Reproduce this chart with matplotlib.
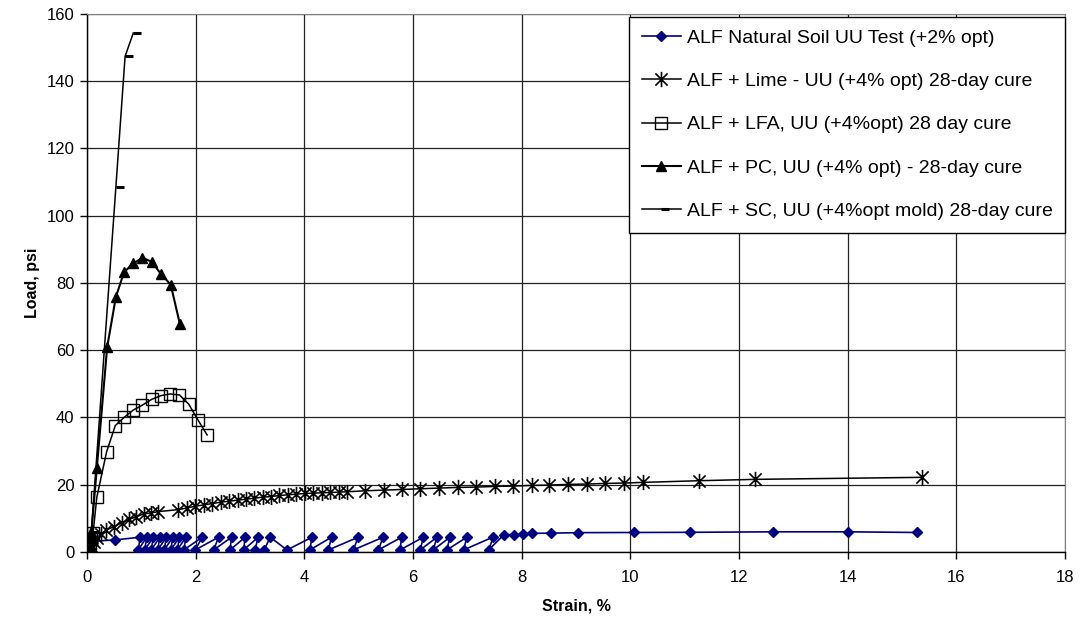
import matplotlib
matplotlib.use('Agg')
import matplotlib.pyplot as plt
from matplotlib.path import Path

plt.rcParams['font.family'] = ['Liberation Sans', 'DejaVu Sans']

# ALF natural soil UU test (+2% opt)
nat_x = [0, 0.03, 0.06, 0.10, 0.52, 0.98, 0.94, 1.10, 1.06, 1.22, 1.18, 1.34, 1.30, 1.46, 1.42,
         1.58, 1.54, 1.70, 1.66, 1.82, 1.78, 2.12, 1.99, 2.42, 2.33, 2.66, 2.63, 2.91, 2.88,
         3.15, 3.09, 3.26, 3.37, 3.68, 4.14, 4.10, 4.50, 4.44, 4.99, 4.90, 5.45, 5.36, 5.79,
         5.76, 6.19, 6.13, 6.44, 6.37, 6.68, 6.62, 6.99, 6.93, 7.48, 7.39, 7.67, 7.85, 8.02,
         8.18, 8.53, 9.04, 10.07, 11.09, 12.62, 14.0, 15.27]
nat_y = [0, 1.2, 2.4, 3.2, 3.6, 4.4, 0.6, 4.4, 0.6, 4.4, 0.6, 4.4, 0.6, 4.4, 0.6,
         4.4, 0.6, 4.4, 0.6, 4.4, 0.6, 4.4, 0.6, 4.4, 0.6, 4.4, 0.6, 4.4, 0.6,
         4.4, 0.6, 0.6, 4.4, 0.6, 4.4, 0.6, 4.4, 0.6, 4.4, 0.6, 4.4, 0.6, 4.4,
         0.6, 4.4, 0.6, 4.4, 0.6, 4.4, 0.6, 4.4, 0.6, 4.5, 0.6, 5.1, 5.2, 5.35,
         5.55, 5.6, 5.75, 5.8, 5.85, 6.0, 6.0, 5.8]

# ALF + Lime, 28-day cure
lime_x = [0, 0.04, 0.08, 0.13, 0.19, 0.26, 0.35, 0.49, 0.64, 0.78, 0.90, 1.04, 1.17, 1.31,
          1.68, 1.84, 1.99, 2.15, 2.30, 2.46, 2.61, 2.77, 2.92, 3.08, 3.23, 3.39, 3.54, 3.70,
          3.85, 4.01, 4.16, 4.32, 4.47, 4.63, 4.78, 5.12, 5.46, 5.80, 6.13, 6.47, 6.82, 7.16,
          7.51, 7.84, 8.18, 8.51, 8.85, 9.20, 9.54, 9.88, 10.23, 11.27, 12.30, 15.36]
lime_y = [0, 0.8, 1.8, 3.0, 4.2, 5.4, 6.5, 7.5, 8.7, 9.7, 10.5, 11.3, 11.6, 12.0,
          12.6, 13.1, 13.6, 14.0, 14.4, 14.8, 15.1, 15.4, 15.7, 16.0, 16.3, 16.5, 16.8, 17.0,
          17.2, 17.4, 17.5, 17.6, 17.7, 17.8, 17.9, 18.2, 18.4, 18.6, 18.8, 19.0, 19.2, 19.3,
          19.5, 19.6, 19.8, 19.9, 20.1, 20.2, 20.4, 20.5, 20.7, 21.2, 21.6, 22.2]

# ALF + LFA
lfa_x = [0, 0.02, 0.05, 0.08, 0.11, 0.18, 0.36, 0.52, 0.68, 0.85, 1.02, 1.19, 1.36, 1.53,
         1.70, 1.87, 2.04, 2.21]
lfa_y = [0, 1.0, 2.5, 4.0, 5.5, 16.3, 29.8, 37.6, 40.0, 42.2, 43.7, 45.4, 46.5, 47.0,
         46.7, 44.0, 39.3, 34.8]

# ALF + PC
pc_x = [0, 0.02, 0.05, 0.08, 0.18, 0.37, 0.53, 0.68, 0.85, 1.02, 1.19, 1.36, 1.54, 1.71]
pc_y = [0, 1.5, 3.5, 6.0, 25.0, 60.9, 75.8, 83.2, 85.8, 87.5, 86.3, 82.7, 79.5, 67.7]

# ALF + SC
sc_x = [0, 0.02, 0.05, 0.08, 0.53, 0.70, 0.85]
sc_y = [0, 1.0, 3.0, 6.0, 108.4, 147.4, 154.3]

labels = ['ALF Natural Soil UU Test (+2% opt)',
          'ALF + Lime - UU (+4% opt) 28-day cure',
          'ALF + LFA, UU (+4%opt) 28 day cure',
          'ALF + PC, UU (+4% opt) - 28-day cure',
          'ALF + SC, UU (+4%opt mold) 28-day cure']

# dash marker drawn to the right of the point, like the excel one
dash = Path([(0, 0), (1, 0)], [Path.MOVETO, Path.LINETO])
# excel style asterisk: an X plus a vertical bar
star = Path([(-1, -1), (1, 1), (-1, 1), (1, -1), (0, -1.25), (0, 1.25)],
            [Path.MOVETO, Path.LINETO, Path.MOVETO, Path.LINETO, Path.MOVETO, Path.LINETO])

fig = plt.figure(figsize=(10.8, 6.24), dpi=100)
ax = fig.add_axes([0.0806, 0.1154, 0.9056, 0.8622])

ax.plot(nat_x, nat_y, color='#000080', lw=1.2, marker='D', ms=5.5, mfc='#000080',
        mec='#000080', label=labels[0], zorder=3)
ax.plot(lime_x, lime_y, color='black', lw=1.1, marker=star, ms=11, mew=1.2,
        label=labels[1], zorder=4)
ax.plot(lfa_x, lfa_y, color='black', lw=1.1, marker='s', ms=8.5, mfc='none', mew=1.0,
        label=labels[2], zorder=4)
ax.plot(pc_x, pc_y, color='black', lw=1.5, marker='^', ms=7, label=labels[3], zorder=4)
ax.plot(sc_x, sc_y, color='black', lw=1.1, marker=dash, ms=12, mew=2.2,
        label=labels[4], zorder=4)

ax.set_xlim(0, 18)
ax.set_ylim(0, 160)
ax.set_xticks(range(0, 19, 2))
ax.set_yticks(range(0, 161, 20))
ax.grid(True, color='#222222', lw=0.9)
ax.set_axisbelow(True)
for s in ['top', 'right']:
    ax.spines[s].set_color('#808080')
for s in ['left', 'bottom']:
    ax.spines[s].set_color('black')
    ax.spines[s].set_linewidth(1.0)
ax.tick_params(direction='out', length=5, width=1, labelsize=12)
ax.tick_params(axis='x', pad=8)
ax.tick_params(axis='y', pad=4)

ax.set_xlabel('Strain, %', fontsize=11.5, fontweight='bold', labelpad=10)
ax.set_ylabel('Load, psi', fontsize=11.5, fontweight='bold', labelpad=5)

leg = ax.legend(loc='upper right', bbox_to_anchor=(1.0, 0.995), fontsize=14,
                frameon=True, fancybox=False, edgecolor='black', framealpha=1,
                handlelength=2.0, labelspacing=1.32, borderaxespad=0, borderpad=0.65,
                handletextpad=0.3)
leg.get_frame().set_linewidth(1.0)

plt.savefig('out.png', dpi=100)
